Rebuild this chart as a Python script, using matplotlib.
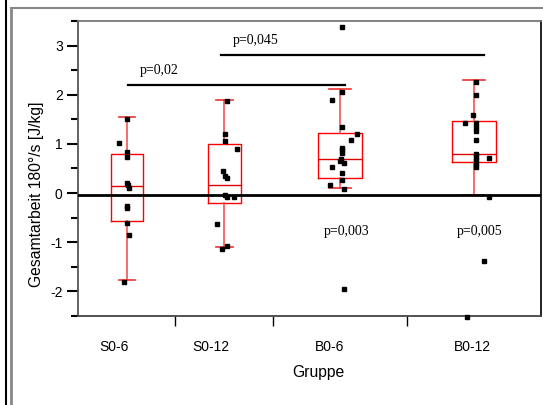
import matplotlib
matplotlib.use("Agg")
import matplotlib.pyplot as plt
from matplotlib.lines import Line2D
from matplotlib.ticker import MultipleLocator

# groups and their positions along the x axis (axis runs 0..10)
groups = ["S0-6", "S0-12", "B0-6", "B0-12"]
box_pos = [1.06, 3.16, 5.66, 8.55]
box_width = [0.69, 0.71, 0.95, 0.95]
label_pos = [0.78, 2.87, 5.44, 8.53]
separator_pos = [2.1, 4.21, 7.1]

# box statistics: lower whisker, q1, median, q3, upper whisker
whis_lo = [-1.76, -1.10, 0.10, -0.03]
q1 = [-0.57, -0.20, 0.31, 0.63]
med = [0.14, 0.17, 0.70, 0.80]
q3 = [0.80, 1.00, 1.23, 1.47]
whis_hi = [1.54, 1.90, 2.11, 2.30]

# individual values with their horizontal jitter
s06_vals = [1.50, 1.01, 0.84, 0.73, 0.20, 0.16, 0.10, -0.26, -0.31, -0.60, -0.86, -1.80]
s06_jit = [0, -0.18, 0, 0, 0, 0.02, 0.05, 0, 0, 0, 0.05, -0.07]
s012_vals = [1.87, 1.20, 1.06, 0.90, 0.44, 0.34, 0.30, -0.03, -0.09, -0.07, -0.63, -1.07, -1.13]
s012_jit = [0.05, 0.02, 0.02, 0.28, -0.02, 0.02, 0.05, 0.02, 0.05, 0.21, -0.16, 0.05, -0.05]
b06_vals = [3.37, 2.06, 1.90, 1.34, 1.20, 1.07, 0.92, 0.87, 0.81, 0.69, 0.66, 0.61,
            0.53, 0.40, 0.26, 0.17, 0.08, -1.96]
b06_jit = [0.04, 0.04, -0.18, 0.04, 0.37, 0.23, 0.04, 0.04, 0.04, 0.02, -0.01, 0.08,
           -0.18, 0.04, 0.04, -0.22, 0.09, 0.08]
b012_vals = [2.26, 2.00, 1.58, 1.43, 1.43, 1.34, 1.26, 1.07, 0.80, 0.73, 0.71, 0.67,
             0.60, 0.53, -0.07, -1.39, -2.53]
b012_jit = [0.04, 0.04, -0.01, -0.19, 0.04, 0.04, 0.04, 0.04, 0.04, 0.04, 0.33, 0.04,
            0.04, 0.04, 0.33, 0.22, -0.14]

# significance annotations
bracket_text = ["p=0,02", "p=0,045"]
bracket_from = [1.08, 3.09]
bracket_to = [5.77, 8.77]
bracket_y = [2.20, 2.80]
vs_zero_text = ["p=0,003", "p=0,005"]

SANS = "Liberation Sans"
SERIF = "Liberation Serif"

fig = plt.figure(figsize=(5.43, 4.05), dpi=100)
ax = fig.add_axes([0.1436, 0.2198, 0.8527, 0.7284])

stats = [
    dict(whislo=whis_lo[i], q1=q1[i], med=med[i], q3=q3[i], whishi=whis_hi[i], fliers=[])
    for i in range(len(groups))
]
ax.bxp(stats, positions=box_pos, widths=box_width, showfliers=False,
       boxprops=dict(color="#ff0000", linewidth=1.0),
       medianprops=dict(color="#e00000", linewidth=1.0),
       whiskerprops=dict(color="#f25555", linewidth=1.2),
       capprops=dict(color="#f03030", linewidth=1.2),
       manage_ticks=False, zorder=2)

ax.axhline(-0.03, color="black", linewidth=2.0, zorder=3)

for pos, vals, jit in zip(box_pos, [s06_vals, s012_vals, b06_vals, b012_vals],
                          [s06_jit, s012_jit, b06_jit, b012_jit]):
    ax.plot([pos + j for j in jit], vals, "s", color="black", markersize=3.4,
            linestyle="none", zorder=4, clip_on=False)

for txt, x0, x1, y in zip(bracket_text, bracket_from, bracket_to, bracket_y):
    ax.plot([x0, x1], [y, y], color="black", linewidth=1.6, zorder=3)
    ax.text(x0 + 0.25, y + 0.3, txt, fontsize=10, family=SERIF, va="center", ha="left")

for pos, txt in zip(box_pos[2:], vs_zero_text):
    ax.text(pos - 0.36, -0.79, txt, fontsize=10, family=SERIF, va="center", ha="left")

ax.set_xlim(0, 10)
ax.set_ylim(-2.5, 3.5)
ax.yaxis.set_major_locator(MultipleLocator(1))
ax.yaxis.set_minor_locator(MultipleLocator(0.5))
ax.set_yticks([-2, -1, 0, 1, 2, 3], labels=["-2", "-1", "0", "1", "2", "3"])
ax.tick_params(axis="y", which="major", direction="out", length=8, width=1.5, pad=3,
               labelsize=10, labelfontfamily=SANS)
ax.tick_params(axis="y", which="minor", direction="out", length=5, width=1.5)

ax.set_xticks(separator_pos, labels=[""] * len(separator_pos))
ax.set_xticks(label_pos, labels=groups, minor=True)
ax.tick_params(axis="x", which="major", direction="out", length=7, width=1.0)
ax.tick_params(axis="x", which="minor", length=0, pad=17, labelsize=10,
               labelfontfamily=SANS)

for side, col in [("left", "#555555"), ("bottom", "#444444"), ("top", "#777777"),
                  ("right", "#111111")]:
    ax.spines[side].set_color(col)
    ax.spines[side].set_linewidth(1.3)

fig.text(37 / 543, 1 - 194 / 405, "Gesamtarbeit 180°/s [J/kg]", rotation=90,
         ha="center", va="center", fontsize=11.3, family=SANS)
fig.text(318 / 543, 1 - 373 / 405, "Gruppe", ha="center", va="center",
         fontsize=11.3, family=SANS)

# outer frame lines of the original export
fig.add_artist(Line2D([6 / 543, 6 / 543], [0, 1], transform=fig.transFigure,
                      color="black", linewidth=1.5))
fig.add_artist(Line2D([11 / 543, 11 / 543], [0, 1 - 8 / 405], transform=fig.transFigure,
                      color="#888888", linewidth=2.0))
fig.add_artist(Line2D([11 / 543, 1], [1 - 8 / 405, 1 - 8 / 405], transform=fig.transFigure,
                      color="#888888", linewidth=1.5))

fig.savefig("out.png", dpi=100)
